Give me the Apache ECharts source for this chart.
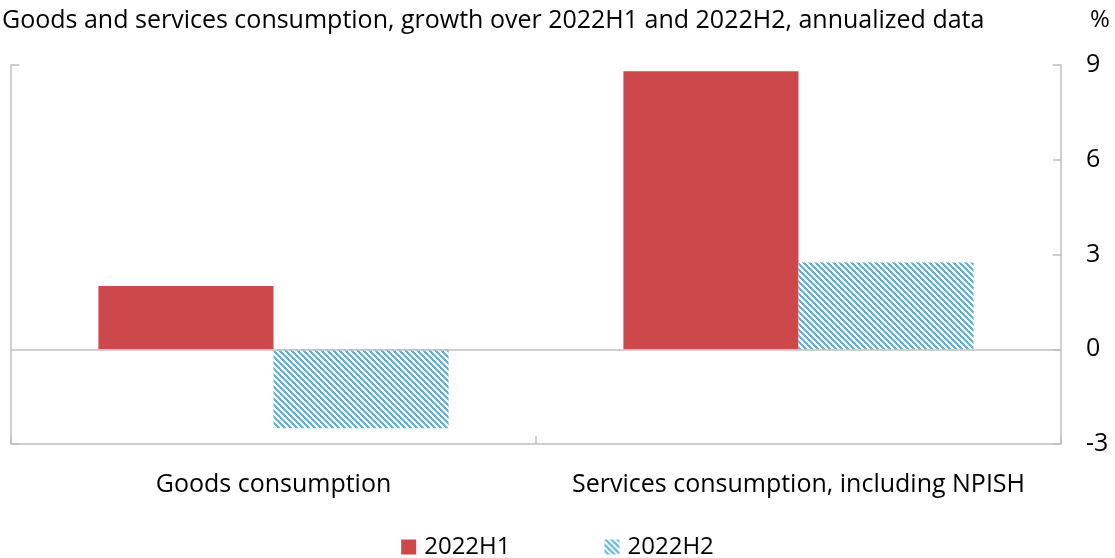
<!DOCTYPE html>
<html><head><meta charset="utf-8">
<script src="https://cdn.jsdelivr.net/npm/echarts@6/dist/echarts.min.js"></script>
<style>html,body{margin:0;padding:0;background:#fff}#c{width:1115px;height:558px}</style>
</head><body><div id="c"></div>
<script>
const categories = ["Goods consumption", "Services consumption, including NPISH"];
const seriesNames = ["2022H1", "2022H2"];
const h1Values = [2.0, 8.8];
const h2Values = [-2.5, 2.75];
const yTicks = [-3, 0, 3, 6, 9];

function stripePattern() {
  const c = document.createElement('canvas');
  c.width = 6; c.height = 6;
  const ctx = c.getContext('2d');
  ctx.fillStyle = '#ffffff';
  ctx.fillRect(0, 0, 6, 6);
  ctx.fillStyle = '#5BB5E0';
  for (let y = 0; y < 6; y++) for (let x = 0; x < 6; x++) {
    if (((x - y) % 6 + 6) % 6 < 3) ctx.fillRect(x, y, 1, 1);
  }
  return { image: c, repeat: 'repeat' };
}

const font = '"Open Sans", "Noto Sans", sans-serif';
const chart = echarts.init(document.getElementById('c'), null, { renderer: 'canvas' });
chart.setOption({
  animation: false,
  textStyle: { fontFamily: font, color: '#000' },
  title: [
    { text: 'Goods and services consumption, growth over 2022H1 and 2022H2, annualized data', left: -3, top: 3,
      textStyle: { fontSize: 25, fontWeight: 'normal', color: '#000', fontFamily: font } },
    { text: '%', left: 1085, top: 3, textStyle: { fontSize: 24, fontWeight: 'normal', color: '#000', fontFamily: font } }
  ],
  legend: {
    top: 530, left: 'center', itemGap: 94, itemWidth: 15, itemHeight: 15, icon: 'rect',
    textStyle: { fontSize: 24, color: '#000', fontFamily: font, padding: [0, 0, 0, 3] },
    data: seriesNames
  },
  grid: { left: 11, right: 54, top: 65, bottom: 114, containLabel: false },
  xAxis: {
    type: 'category', data: categories, position: 'bottom',
    axisLine: { onZero: false, lineStyle: { color: '#BFBFBF', width: 1.5 } },
    axisTick: { show: true, inside: true, length: 8, interval: 0, lineStyle: { color: '#BFBFBF', width: 1.5 } },
    axisLabel: { fontSize: 25, color: '#000', margin: 28, interval: 0 }
  },
  yAxis: [
    {
      type: 'value', position: 'right', min: yTicks[0], max: yTicks[yTicks.length - 1], interval: 3,
      axisLine: { show: true, lineStyle: { color: '#BFBFBF', width: 1.5 } },
      axisTick: { show: true, inside: true, length: 8, lineStyle: { color: '#BFBFBF', width: 1.5 } },
      axisLabel: { fontSize: 25, color: '#000', margin: 25 },
      splitLine: { show: false }
    },
    {
      type: 'value', position: 'left', min: -3, max: 9, interval: 12,
      axisLine: { show: true, lineStyle: { color: '#BFBFBF', width: 1.5 } },
      axisTick: { show: true, inside: true, length: 8, lineStyle: { color: '#BFBFBF', width: 1.5 } },
      axisLabel: { show: false },
      splitLine: { show: false }
    }
  ],
  series: [
    {
      name: seriesNames[0], type: 'bar', data: h1Values, yAxisIndex: 0,
      barGap: '0%', barCategoryGap: '33.3%',
      itemStyle: { color: '#CC484B' },
      markLine: { silent: true, symbol: 'none', label: { show: false },
        lineStyle: { color: '#BFBFBF', width: 1.5, type: 'solid' }, data: [{ yAxis: 0 }] }
    },
    {
      name: seriesNames[1], type: 'bar', data: h2Values, yAxisIndex: 0,
      barGap: '0%', barCategoryGap: '33.3%',
      itemStyle: { color: stripePattern() }
    }
  ]
});
</script></body></html>
